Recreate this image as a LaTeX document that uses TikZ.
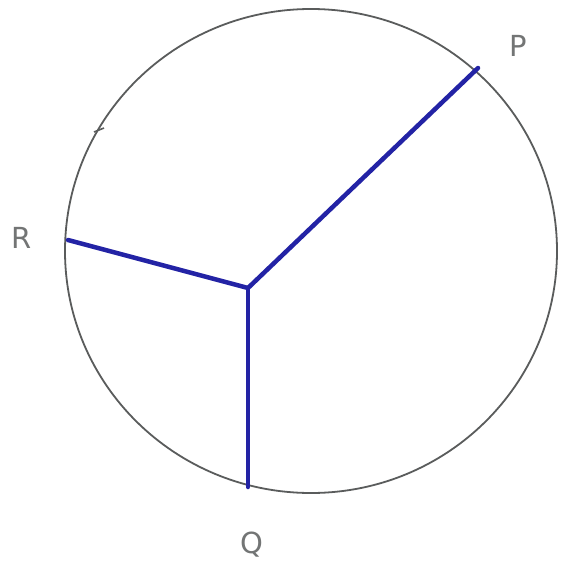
\documentclass[tikz,border=0pt]{standalone}
\usepackage{fontspec}
\setmainfont{DejaVu Sans}
\definecolor{pencil}{RGB}{90,92,92}
\definecolor{ink}{RGB}{35,35,165}
\definecolor{lbl}{RGB}{115,117,117}
\begin{document}
\begin{tikzpicture}[x=1pt,y=-1pt,
  rim/.style={draw=pencil,line width=1.8pt},
  spoke/.style={draw=ink,line width=4.5pt,line cap=round},
  lab/.style={text=lbl,font=\fontsize{29}{29}\selectfont,inner sep=0pt}]
\useasboundingbox (0,0) rectangle (561,562);
\fill[white] (0,0) rectangle (561,562);
\coordinate (C) at (311,251);
\coordinate (O) at (248,288);
\coordinate (P) at (478,68);
\coordinate (R) at (68,240);
\coordinate (Q) at (248,487);
\draw[rim] (C) ellipse [x radius=246, y radius=242];
\draw[pencil,line width=1.6pt] (94,132) -- (104,128);
\draw[spoke] (O) -- (P);
\draw[spoke] (O) -- (R);
\draw[spoke] (O) -- (Q);
\node[lab] (lP) at (518,46) {P};
\node[lab] (lR) at (22,238) {R};
\node[lab] (lQ) at (252,545) {Q};
\end{tikzpicture}
\end{document}
